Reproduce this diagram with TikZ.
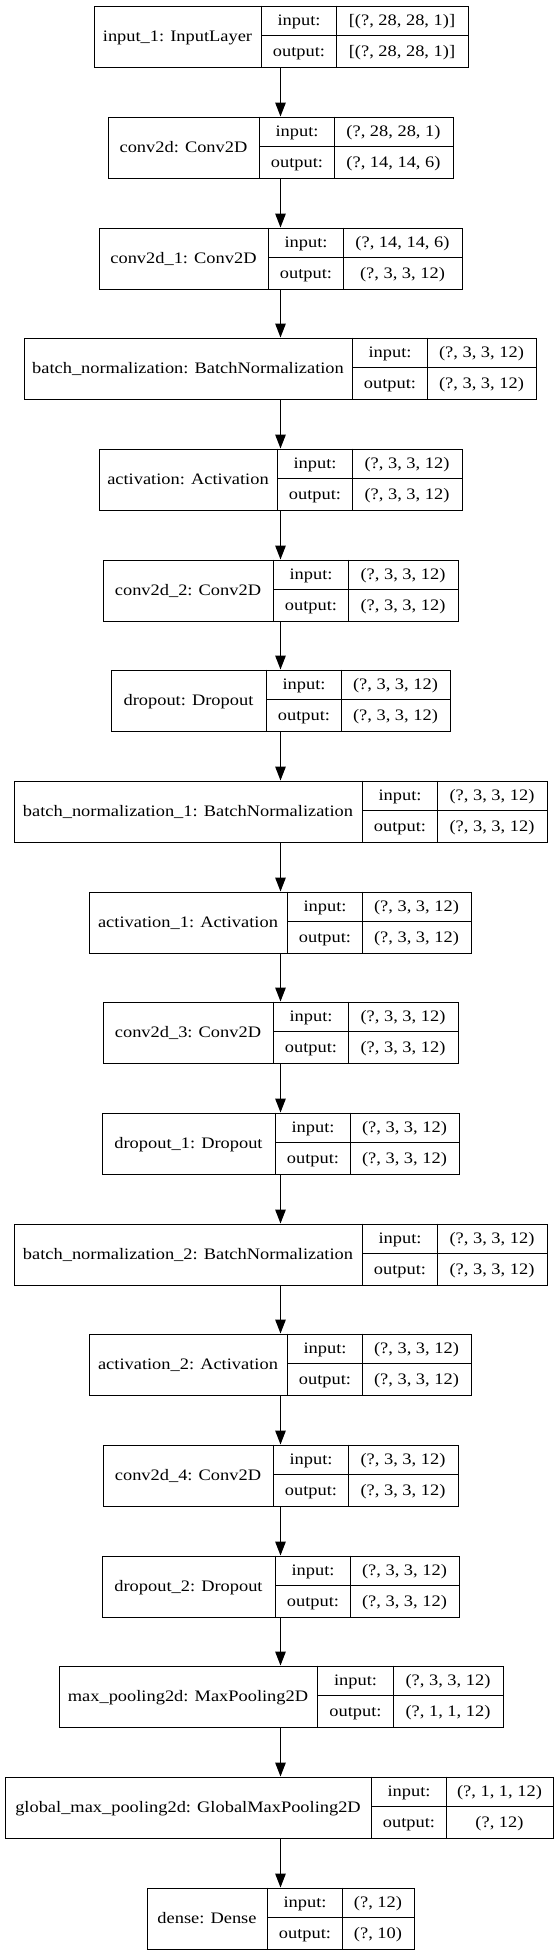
\documentclass[tikz,border=0pt]{standalone}
\usepackage{fontspec}
\setmainfont{Liberation Serif}[FakeStretch=1.15]
\usetikzlibrary{arrows.meta}
\tikzset{
  recbox/.style={draw, line width=1.3bp, inner sep=0pt, minimum height=61bp, rectangle},
  sepline/.style={line width=1.3bp},
  txt/.style={inner sep=0pt, anchor=base, font=\fontsize{16bp}{19bp}\selectfont},
  arr/.style={line width=1.3bp, -{Triangle[length=14bp,width=10.5bp]}},
}
\newcommand\layerbox[9]{%
  \node[recbox, minimum width={(#6-#3)*1bp}, anchor=north west] (#1) at (#3,#2) {};
  \draw[sepline] (#4,#2) -- (#4,#2+61) (#5,#2) -- (#5,#2+61) (#4,#2+30) -- (#6,#2+30);
  \node[txt] (#1-l) at ({(#3+#4)/2},#2+35.9) {#7};
  \node[txt] (#1-i) at ({(#4+#5)/2},#2+20.4) {input:};
  \node[txt] (#1-iv) at ({(#5+#6)/2},#2+20.4) {#8};
  \node[txt] (#1-o) at ({(#4+#5)/2},#2+51.2) {output:};
  \node[txt] (#1-ov) at ({(#5+#6)/2},#2+51.2) {#9};
}
\begin{document}
\begin{tikzpicture}[x=1bp,y=-1bp]
\useasboundingbox (0,0) rectangle (557,1955);
\fill[white] (0,0) rectangle (557,1955);
\coordinate (ax) at (280.5,0);
\layerbox{L1}{5.5}{93.5}{261.5}{336.5}{467.5}{input\_1: InputLayer}{[(?, 28, 28, 1)]}{[(?, 28, 28, 1)]}
\layerbox{L2}{116.5}{107.5}{259.5}{334.5}{452.5}{conv2d: Conv2D}{(?, 28, 28, 1)}{(?, 14, 14, 6)}
\layerbox{L3}{227.5}{98.5}{268.5}{343.5}{461.5}{conv2d\_1: Conv2D}{(?, 14, 14, 6)}{(?, 3, 3, 12)}
\layerbox{L4}{337.5}{23.5}{352.5}{427.5}{535.5}{batch\_normalization: BatchNormalization}{(?, 3, 3, 12)}{(?, 3, 3, 12)}
\layerbox{L5}{448.5}{98.5}{277.5}{352.5}{461.5}{activation: Activation}{(?, 3, 3, 12)}{(?, 3, 3, 12)}
\layerbox{L6}{559.5}{102.5}{273.5}{348.5}{457.5}{conv2d\_2: Conv2D}{(?, 3, 3, 12)}{(?, 3, 3, 12)}
\layerbox{L7}{669.5}{110.5}{266.5}{341.5}{449.5}{dropout: Dropout}{(?, 3, 3, 12)}{(?, 3, 3, 12)}
\layerbox{L8}{780.5}{13.5}{362.5}{437.5}{546.5}{batch\_normalization\_1: BatchNormalization}{(?, 3, 3, 12)}{(?, 3, 3, 12)}
\layerbox{L9}{891.5}{88.5}{287.5}{362.5}{470.5}{activation\_1: Activation}{(?, 3, 3, 12)}{(?, 3, 3, 12)}
\layerbox{L10}{1001.5}{102.5}{273.5}{348.5}{457.5}{conv2d\_3: Conv2D}{(?, 3, 3, 12)}{(?, 3, 3, 12)}
\layerbox{L11}{1112.5}{101.5}{275.5}{350.5}{458.5}{dropout\_1: Dropout}{(?, 3, 3, 12)}{(?, 3, 3, 12)}
\layerbox{L12}{1223.5}{13.5}{362.5}{437.5}{546.5}{batch\_normalization\_2: BatchNormalization}{(?, 3, 3, 12)}{(?, 3, 3, 12)}
\layerbox{L13}{1333.5}{88.5}{287.5}{362.5}{470.5}{activation\_2: Activation}{(?, 3, 3, 12)}{(?, 3, 3, 12)}
\layerbox{L14}{1444.5}{102.5}{273.5}{348.5}{457.5}{conv2d\_4: Conv2D}{(?, 3, 3, 12)}{(?, 3, 3, 12)}
\layerbox{L15}{1555.5}{101.5}{275.5}{350.5}{458.5}{dropout\_2: Dropout}{(?, 3, 3, 12)}{(?, 3, 3, 12)}
\layerbox{L16}{1665.5}{58.5}{317.5}{393.5}{502.5}{max\_pooling2d: MaxPooling2D}{(?, 3, 3, 12)}{(?, 1, 1, 12)}
\layerbox{L17}{1776.5}{4.5}{371.5}{446.5}{552.5}{global\_max\_pooling2d: GlobalMaxPooling2D}{(?, 1, 1, 12)}{(?, 12)}
\layerbox{L18}{1887.5}{146.5}{267.5}{342.5}{413.5}{dense: Dense}{(?, 12)}{(?, 10)}
\foreach \a [count=\b from 2] in {1,...,17}
  \draw[arr] (L\a.south -| ax) -- (L\b.north -| ax);
\end{tikzpicture}
\end{document}
